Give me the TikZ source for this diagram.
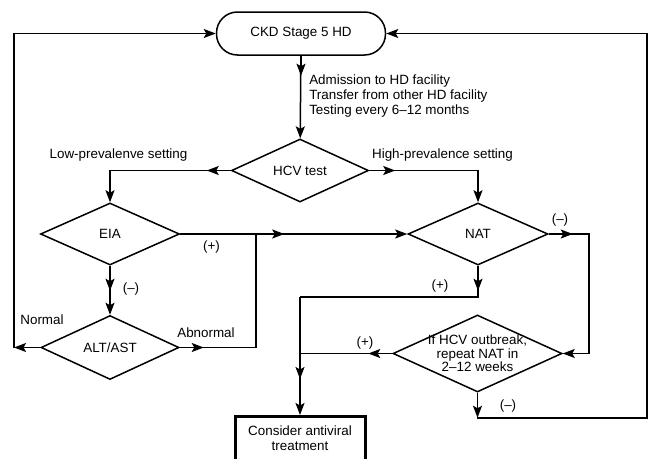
\documentclass[tikz,border=0pt]{standalone}
\usepackage{fontspec}
\setmainfont{Liberation Sans}
\usetikzlibrary{shapes.geometric,arrows.meta}
\newcommand{\fsz}{\fontsize{13.4}{15}\selectfont}
\begin{document}
\begin{tikzpicture}[x=1pt,y=-1pt,
  line width=1.5pt,
  tip/.style={-{Stealth[length=12pt,width=9pt,inset=2.5pt]}},
  dia/.style={draw,diamond,inner sep=0pt},
  every node/.style={font=\fsz},
  txt/.style={inner sep=0pt}
]
\clip (0,0) rectangle (648,458);
% nodes
\node[draw, rounded corners=21pt, minimum width=169pt, minimum height=43pt] (ckd) at (301,33.5) {CKD Stage 5 HD};
\node[dia, minimum width=137pt, minimum height=63pt, label=center:HCV test] (hcv) at (300,170.5) {};
\node[dia, minimum width=139pt, minimum height=62pt, label=center:EIA] (eia) at (110,234) {};
\node[dia, minimum width=140pt, minimum height=62pt, label=center:NAT] (nat) at (478,234) {};
\node[dia, minimum width=138pt, minimum height=64pt, label=center:ALT/AST] (alt) at (110,347.5) {};
\node[dia, minimum width=169pt, minimum height=77pt,
  label={[align=center,font=\fontsize{13.4}{13.5}\selectfont]center:If HCV outbreak,\\repeat NAT in\\2–12 weeks}] (ob) at (477.5,353.5) {};
\node[draw, line width=3pt, minimum width=130pt, minimum height=44pt, align=center] (tx) at (300,438.5) {Consider antiviral\\treatment};
% texts
\node[txt, anchor=west, align=left] (adm) at (308.5,96) {Admission to HD facility\\Transfer from other HD facility\\Testing every 6–12 months};
\node[txt] (low) at (118.5,155.5) {Low-prevalenve setting};
\node[txt] (high) at (442.5,155.5) {High-prevalence setting};
\node[txt] (eiap) at (211.5,247.5) {(+)};
\node[txt] (eiam) at (131,289) {(–)};
\node[txt] (norm) at (42,320) {Normal};
\node[txt] (abn) at (206,333) {Abnormal};
\node[txt] (natm) at (560,220) {(–)};
\node[txt] (natp) at (440,286) {(+)};
\node[txt] (obp) at (365,343) {(+)};
\node[txt] (obm) at (508,406) {(–)};
% coordinates
\coordinate (j1) at (256,234);
\coordinate (j2) at (300,297);
\coordinate (cl) at (14,347.5);
\coordinate (rc) at (647,418);
% connectors
\draw[tip] (ckd) -- (hcv);
\draw[tip] (ckd.south) -- ++(0,20);
\draw[tip] (hcv.west) -| (eia.north);
\draw[tip] (hcv.west) -- ++(-24,0);
\draw[tip] (hcv.east) -| (nat.north);
\draw[tip] (hcv.east) -- ++(26,0);
\draw[tip] (eia.east) -- (nat.west);
\draw[tip] (eia.east) -- ++(104,0);
\draw[tip] (eia.south) -- (alt.north);
\draw[tip] (eia.south) -- ++(0,25);
\draw (alt.east) -| (j1);
\draw[tip] (alt.east) -- ++(24,0);
\draw[tip] (alt.west) -- (cl);
\draw[tip] (cl) |- (ckd.west);
\draw[tip] (nat.east) -- ++(24,0);
\draw[tip] (nat.east) -- ++(40,0) |- (ob.east);
\draw[tip] (nat.south) -- ++(0,25);
\draw (nat.south) |- (j2);
\draw[tip] (j2) -- (tx.north);
\draw[tip] (j2) -- ++(0,82);
\draw (ob.west) -- (ob.west -| tx.north);
\draw[tip] (ob.west) -- ++(-24,0);
\draw[tip] (ob.south) -- ++(0,25);
\draw[tip] (ob.south) |- (rc) |- (ckd.east);
\end{tikzpicture}
\end{document}
